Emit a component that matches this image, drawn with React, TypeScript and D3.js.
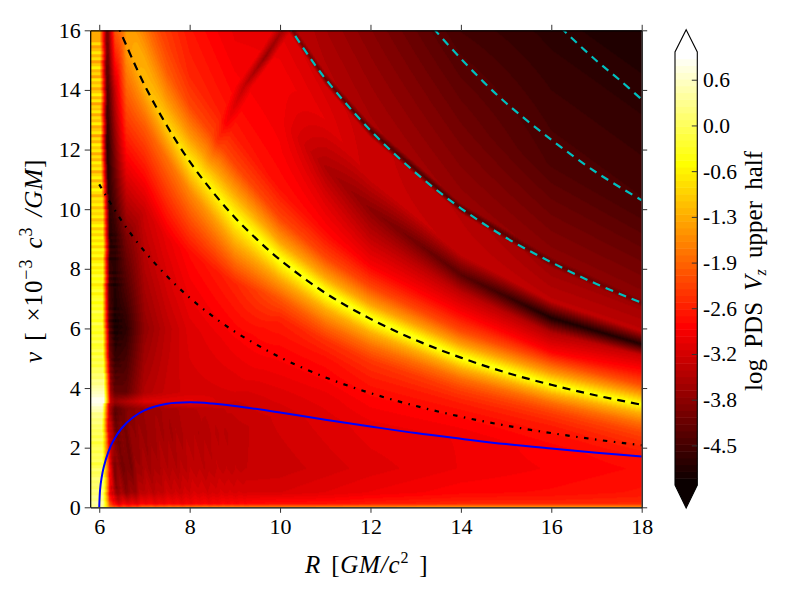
import React, { useEffect, useRef } from "react";
import * as d3 from "d3";

const WIDTH = 800;
const HEIGHT = 600;

// radius of each profile
const columnR = [6.2, 6.35, 6.6, 7, 7.5, 8, 9, 10, 11, 12, 14, 16, 18];

// frequency of the stops of each profile, bottom edge to above the top edge
const columnNu = [
  [0, 0.12, 0.5, 1.3, 2.5, 3.3, 3.55, 3.85, 6, 9, 12, 14, 16, 17, 18, 19, 20, 21, 22, 23, 24, 25, 26],
  [0, 0.12, 0.5, 1.3, 2.5, 3.3, 3.55, 3.85, 6, 9, 12, 14, 16, 17, 18, 19, 20, 21, 22, 23, 24, 25, 26],
  [0, 0.12, 0.5, 1.3, 2.5, 3.3, 3.55, 3.85, 6, 9, 13, 15.5, 16.5, 17.5, 18, 19, 20, 21, 22, 23, 24, 25, 26],
  [0, 0.12, 0.5, 1.3, 2.5, 3.3, 3.55, 3.85, 6, 10, 12.8, 14.17, 15, 16, 17, 18, 19, 20, 21, 22, 23, 24, 25],
  [0, 0.12, 0.5, 1.3, 2.5, 3.3, 3.55, 3.85, 6, 9, 11.7, 12.79, 13.7, 14.6, 15.5, 16.5, 17, 18, 19, 20, 21, 22, 23],
  [0, 0.12, 0.5, 1.3, 2.5, 3.3, 3.55, 3.85, 6, 8.5, 10.6, 11.6, 12.5, 13.5, 14.5, 15.5, 16.5, 17, 18, 19, 20, 21, 22],
  [0, 0.12, 0.5, 1.3, 2.5, 3.3, 3.55, 3.85, 5.5, 7.5, 8.9, 9.72, 10.5, 11.5, 12.5, 13.5, 14.5, 15.5, 16.5, 17, 18, 19, 20],
  [0, 0.12, 0.5, 1.3, 3.18, 4, 4.7, 5.5, 6.3, 7, 7.65, 8.3, 8.9, 9.7, 10.7, 12, 13, 14.5, 16.35, 16.6, 16.85, 18, 19],
  [0, 0.12, 0.5, 1.3, 2.9, 3.7, 4.3, 5, 5.6, 6.1, 6.65, 7.19, 7.7, 8.4, 9.2, 10.3, 11.4, 13, 14.15, 14.38, 14.6, 15.8, 17],
  [0, 0.12, 0.5, 1.3, 2.7, 3.4, 3.8, 4.3, 4.9, 5.4, 5.85, 6.32, 6.8, 7.4, 8.1, 9.1, 10, 11, 12.4, 12.64, 12.88, 14.5, 16.5],
  [0, 0.12, 0.5, 1.3, 2.3, 2.9, 3.2, 3.55, 3.95, 4.3, 4.65, 5.02, 5.45, 5.9, 6.45, 7.2, 7.8, 8.5, 9.85, 10.03, 10.2, 12.9, 16.5],
  [0, 0.12, 0.5, 1.3, 2, 2.4, 2.7, 2.95, 3.2, 3.5, 3.8, 4.11, 4.5, 4.85, 5.2, 5.85, 6.35, 6.9, 8.05, 8.22, 8.4, 11.5, 16.5],
  [0, 0.12, 0.5, 1.3, 1.6, 1.85, 2, 2.2, 2.5, 2.8, 3.15, 3.45, 3.8, 4.1, 4.5, 5.1, 5.47, 5.9, 6.7, 6.86, 7, 10, 16.5],
];

// log power at those stops
const columnVal = [
  [-1.5, -2, -2.8, -2.6, -2.9, -3.2, -3.2, -3.5, -4.2, -4.8, -4.7, -4.4, -3.9, -3.6, -3.5, -3.5, -3.5, -3.5, -3.5, -3.5, -3.5, -3.5, -3.5],
  [-2, -3, -3.6, -3.9, -4, -4.2, -3.8, -4.3, -4.9, -4.7, -3.9, -3.3, -2, -1.8, -1.8, -1.8, -1.8, -1.8, -1.8, -1.8, -1.8, -1.8, -1.8],
  [-2.2, -3, -3.8, -4, -3.9, -3.95, -3.5, -4.2, -4.7, -4, -2.3, -1.4, -1.4, -1.7, -1.8, -1.9, -2, -2, -2, -2, -2, -2, -2],
  [-1.8, -2.9, -3.4, -3.6, -3.7, -3.7, -3.1, -3.5, -3.8, -3.25, -2, -1.15, -1.3, -1.7, -2.1, -2.4, -2.5, -2.5, -2.5, -2.5, -2.5, -2.5, -2.5],
  [-1.7, -2.9, -3.3, -3.5, -3.6, -3.6, -3.05, -3.3, -3.4, -3, -1.8, -0.9, -1.5, -2, -2.25, -2.4, -2.5, -2.6, -2.6, -2.6, -2.6, -2.6, -2.6],
  [-1.65, -2.9, -3.2, -3.4, -3.5, -3.45, -3, -3.2, -3.1, -2.75, -1.6, -0.65, -1.5, -2.2, -2.5, -2.6, -2.7, -2.75, -2.8, -2.8, -2.8, -2.8, -2.8],
  [-1.6, -2.8, -3.15, -3.35, -3.4, -3.3, -3.25, -3.15, -2.9, -2.5, -1.25, -0.45, -1.3, -2.2, -2.6, -2.75, -2.85, -2.95, -3, -3, -3, -3, -3],
  [-1.6, -2.7, -3.15, -3.3, -3.2, -3.05, -2.9, -2.75, -2.55, -2.05, -1.3, -0.35, -1.35, -2.2, -2.7, -2.85, -2.9, -2.9, -3.1, -3.9, -3.4, -3.4, -3.4],
  [-1.55, -2.7, -3.05, -3.2, -3.1, -3, -2.85, -2.7, -2.4, -1.9, -1.25, -0.3, -1.3, -2.2, -2.75, -3.1, -3.55, -3.05, -3.2, -4.2, -3.5, -3.6, -3.7],
  [-1.5, -2.6, -2.95, -3.1, -3, -2.85, -2.75, -2.6, -2.35, -1.85, -1.25, -0.3, -1.35, -2.2, -2.85, -3.4, -3.85, -3.3, -3.3, -4.4, -3.6, -3.75, -3.95],
  [-1.4, -2.5, -2.8, -2.95, -2.95, -2.8, -2.7, -2.55, -2.25, -1.85, -1.25, -0.35, -1.35, -2.15, -2.75, -3.4, -4.3, -3.35, -3.45, -4.4, -3.75, -4.1, -4.55],
  [-1.45, -2.5, -2.75, -2.85, -2.8, -2.7, -2.6, -2.45, -2.25, -1.85, -1.25, -0.4, -1.4, -2.1, -2.8, -3.5, -4.85, -3.4, -3.7, -4.25, -3.85, -4.4, -4.75],
  [-1.5, -2.45, -2.65, -2.75, -2.7, -2.6, -2.5, -2.4, -2.2, -1.85, -1.25, -0.45, -1.4, -2.1, -2.65, -3.3, -4.8, -3.4, -3.65, -4.05, -3.85, -4.45, -4.9],
];

// the noisy bright band at the inner edge, one value per 0.1 of frequency
const edgeVal = [
  0.3, 0.4, 0.2, 0.3, 0.1, 0.25, 0, 0.15, 0.05, 0.2,
  0, -0.1, 0.1, -0.05, -0.2, 0, -0.1, 0.05, -0.15, 0,
  -0.1, -0.2, 0, -0.15, 0.05, -0.1, 0.1, 0, 0.2, 0.1,
  0.3, 0.2, 0.5, 0.6, 0.8, 0.85, 0.9, 0.75, 0.6, 0.5,
  0.4, 0.2, 0.3, 0.05, 0.15, -0.1, 0, -0.2, -0.05, -0.25,
  -0.1, -0.3, -0.05, -0.2, -0.35, -0.1, -0.3, -0.15, -0.4, -0.2,
  -0.3, -0.1, -0.45, -0.2, -0.35, -0.05, -0.4, -0.25, -0.5, -0.2,
  -0.35, -0.6, -0.2, -0.45, -0.7, -0.3, -0.55, -0.2, -0.6, -0.4,
  -0.75, -0.35, -0.6, -0.9, -0.45, -0.7, -0.4, -0.95, -0.55, -0.8,
  -0.5, -0.9, -0.65, -1.05, -0.5, -0.85, -1.1, -0.6, -0.9, -0.7,
  -1.1, -0.6, -0.95, -0.7, -1.2, -0.8, -0.55, -1, -0.75, -1.15,
  -0.65, -0.95, -1.25, -0.7, -1, -0.6, -1.15, -0.85, -1.3, -0.75,
  -1.05, -0.6, -1.2, -0.85, -1.35, -0.7, -1, -1.25, -0.65, -1.1,
  -0.8, -1.3, -0.7, -1.1, -0.9, -1.4, -0.75, -1.15, -0.6, -1.05,
  -1.3, -0.8, -1.1, -0.7, -1.35, -0.9, -1.2, -0.65, -1.05, -1.4,
  -0.85, -1.2, -0.7, -1.1, -1.4, -0.8, -1.25, -0.95, -0.7, -1.3,
];
// where that band starts to fade, one value per 0.5 of frequency
const edgeEnd = [
  6.08, 6.09, 6.08, 6.07, 6.07, 6.06, 6.07, 6.1, 6.1, 6.09, 6.08, 6.08, 6.07, 6.07, 6.07, 6.08, 6.08,
  6.09, 6.08, 6.08, 6.07, 6.05, 6.04, 6.03, 6.02, 6.03, 6.02, 6.03, 6.02, 6.01, 6.02, 6.01, 6.02,
];
const EDGE_FADE = 0.15;

// fan of faint ripples under the epicyclic curve, one value per 0.1 of radius from 6.2
const rippleVal = [
  0.2, -0.2, 0.15, -0.1, 0.05, -0.15, 0.1, -0.03, 0.08, -0.1, 0.02, -0.06, 0.09, -0.04, 0.05, -0.08,
  0.04, -0.05, 0.07, -0.02, 0.05, -0.06, 0.02, -0.04, 0.05, -0.02, 0.03, -0.04, 0.02, -0.03, 0,
];

// faint dark streak running up through the ridge
const streakNu = [3.7, 8.5, 11, 12.2, 13, 14.1, 15.1, 16];
const streakR = [6.75, 7.75, 8.3, 8.6, 8.85, 9.2, 9.67, 10.05];
const streakDepth = [0, 0, 0, 0.15, 0.3, 0.5, 0.85, 0.55];

const keplerR = [6, 6.5, 7, 7.5, 8, 8.5, 9, 9.5, 10, 11, 12, 13, 14, 15, 16, 17, 18];
const keplerNu = [10.83, 9.6, 8.59, 7.75, 7.03, 6.42, 5.89, 5.44, 5.03, 4.36, 3.83, 3.4, 3.04, 2.74, 2.49, 2.27, 2.08];

const ridgeR = [6.4, 6.5, 7, 7.5, 8, 8.5, 9, 9.5, 10, 11, 12, 13, 14, 15, 16, 17, 18];
const ridgeNu = [16.2, 15.84, 14.17, 12.79, 11.6, 10.6, 9.72, 8.97, 8.3, 7.19, 6.32, 5.61, 5.02, 4.52, 4.11, 3.75, 3.44];

const epicycleR = [6, 6.02, 6.05, 6.1, 6.2, 6.3, 6.5, 6.75, 7, 7.5, 8, 8.5, 9, 10, 11, 12, 13, 14, 15, 16, 17, 18];
const epicycleNu = [0, 0.62, 0.97, 1.35, 1.85, 2.2, 2.66, 3.02, 3.25, 3.47, 3.52, 3.48, 3.4, 3.18, 2.94, 2.71, 2.49, 2.3, 2.12, 1.97, 1.83, 1.7];

const cyan1R = [10, 10.5, 11, 12, 13, 14, 15, 16, 17, 18];
const cyan1Nu = [16.6, 15.44, 14.38, 12.64, 11.22, 10.03, 9.04, 8.22, 7.49, 6.86];
const cyan2R = [13.4, 13.5, 14, 14.5, 15, 16, 17, 18];
const cyan2Nu = [16.06, 15.88, 15.05, 14.27, 13.56, 12.33, 11.23, 10.3];
const cyan3R = [16, 16.3, 17, 17.5, 18];
const cyan3Nu = [16.43, 15.96, 14.98, 14.35, 13.68];

const xTicks = [6, 8, 10, 12, 14, 16, 18];
const yTicks = [0, 2, 4, 6, 8, 10, 12, 14, 16];
const barTicks = [0.643, 0, -0.643, -1.286, -1.929, -2.571, -3.214, -3.857, -4.5];
const barLabels = ["0.6", "0.0", "-0.6", "-1.3", "-1.9", "-2.6", "-3.2", "-3.8", "-4.5"];

const VMIN = -5.05;
const VMAX = 1.04;
const LEVELS = 64;

const hot = d3
  .scaleLinear<string>()
  .domain([0, 0.365, 0.746, 1])
  .range(["#0b0000", "#ff0000", "#ffff00", "#ffffff"])
  .clamp(true);

function levelColor(v: number) {
  const t = (v - VMIN) / (VMAX - VMIN);
  const level = Math.max(0, Math.min(LEVELS - 1, Math.floor(t * LEVELS)));
  return d3.rgb(hot(level / (LEVELS - 1)));
}

const App: React.FC = () => {
  const svgRef = useRef<SVGSVGElement | null>(null);

  useEffect(() => {
    const svg = d3.select(svgRef.current);
    svg.selectAll("*").remove();

    const x = d3.scaleLinear().domain([5.8, 18]).range([90.2, 641.7]);
    const y = d3.scaleLinear().domain([0, 16]).range([507.3, 30.3]);
    const left = x.range()[0];
    const right = x.range()[1];
    const top = y.range()[1];
    const bottom = y.range()[0];

    // paint the power map one pixel at a time
    const w = Math.round(right - left);
    const h = Math.round(bottom - top);
    const canvas = document.createElement("canvas");
    canvas.width = w;
    canvas.height = h;
    const ctx = canvas.getContext("2d")!;
    const img = ctx.createImageData(w, h);
    const stopCount = columnNu[0].length;
    const streakAtR = d3.scaleLinear().domain(streakNu).range(streakR).clamp(true);
    const streakAtD = d3.scaleLinear().domain(streakNu).range(streakDepth).clamp(true);

    for (let i = 0; i < w; i++) {
      const R = x.invert(left + ((i + 0.5) * (right - left)) / w);
      const c1 = Math.max(0, Math.min(columnR.length - 2, d3.bisectRight(columnR, R) - 1));
      const f = Math.max(0, Math.min(1, (R - columnR[c1]) / (columnR[c1 + 1] - columnR[c1])));
      const nus: number[] = [];
      const vals: number[] = [];
      for (let k = 0; k < stopCount; k++) {
        nus.push(columnNu[c1][k] + (columnNu[c1 + 1][k] - columnNu[c1][k]) * f);
        vals.push(columnVal[c1][k] + (columnVal[c1 + 1][k] - columnVal[c1][k]) * f);
      }
      for (let j = 0; j < h; j++) {
        const nu = y.invert(top + ((j + 0.5) * (bottom - top)) / h);
        const s = Math.max(1, Math.min(stopCount - 1, d3.bisectRight(nus, nu)));
        const g = (nu - nus[s - 1]) / (nus[s] - nus[s - 1]);
        let v = vals[s - 1] + (vals[s] - vals[s - 1]) * g;

        const off = Math.abs(R - streakAtR(nu)) / 0.2;
        if (off < 1) v -= streakAtD(nu) * (1 - off);

        const row = Math.min(edgeVal.length - 4, Math.floor(nu / 0.1));
        const bright = edgeVal[row];

        // speckle just outside the band
        if (R < 6.6 && nu < 10) {
          const fade = Math.min(1, (6.6 - R) / 0.3) * Math.min(1, (10 - nu) / 2);
          v += (edgeVal[row] - edgeVal[row + 3]) * 0.3 * fade;
        }

        // fan of ripples low down
        if (nu < 3.4) {
          const rr = (R + (nu - 1.5) * 0.1 - 6.2) / 0.1;
          const r0 = Math.floor(rr);
          if (r0 >= 0 && r0 < rippleVal.length - 1) {
            const fade = Math.min(1, (3.4 - nu) / 0.9);
            v += (rippleVal[r0] + (rippleVal[r0 + 1] - rippleVal[r0]) * (rr - r0)) * fade;
          }
        }

        const end = edgeEnd[Math.min(edgeEnd.length - 1, Math.floor(nu / 0.5))];
        if (R < end) v = bright;
        else if (R < end + EDGE_FADE) v = bright + (v - bright) * ((R - end) / EDGE_FADE);

        const col = levelColor(v);
        const p = (j * w + i) * 4;
        img.data[p] = col.r;
        img.data[p + 1] = col.g;
        img.data[p + 2] = col.b;
        img.data[p + 3] = 255;
      }
    }
    ctx.putImageData(img, 0, 0);

    svg
      .append("image")
      .attr("x", left)
      .attr("y", top)
      .attr("width", right - left)
      .attr("height", bottom - top)
      .attr("preserveAspectRatio", "none")
      .attr("href", canvas.toDataURL());

    svg
      .append("clipPath")
      .attr("id", "plot-clip")
      .append("rect")
      .attr("x", left)
      .attr("y", top)
      .attr("width", right - left)
      .attr("height", bottom - top);

    function drawCurve(rs: number[], nus: number[], color: string, dash: string | null, sw: number) {
      const path = d3
        .line<[number, number]>()
        .curve(d3.curveCatmullRom)
        .x((d) => x(d[0]))
        .y((d) => y(d[1]));
      svg
        .append("path")
        .attr("clip-path", "url(#plot-clip)")
        .attr("d", path(rs.map((r, i) => [r, nus[i]] as [number, number])))
        .attr("fill", "none")
        .attr("stroke", color)
        .attr("stroke-width", sw)
        .attr("stroke-dasharray", dash);
    }

    drawCurve(epicycleR, epicycleNu, "#0000ff", null, 2);
    drawCurve(keplerR, keplerNu, "#000000", "4.5 6.5 1.5 6.5", 2.2);
    drawCurve(ridgeR, ridgeNu, "#000000", "8 6", 2.2);
    drawCurve(cyan1R, cyan1Nu, "#00bfbf", "8 6", 2.2);
    drawCurve(cyan2R, cyan2Nu, "#00bfbf", "8 6", 2.2);
    drawCurve(cyan3R, cyan3Nu, "#00bfbf", "8 6", 2.2);

    const serif = "'Liberation Serif', serif";

    // frame with outward ticks on all four sides
    const xAxis = d3.axisBottom(x).tickValues(xTicks).tickSize(5.5).tickPadding(6).tickFormat(d3.format("d") as any);
    const yAxis = d3.axisLeft(y).tickValues(yTicks).tickSize(5.5).tickPadding(4).tickFormat(d3.format("d") as any);
    const xTop = d3.axisTop(x).tickValues(xTicks).tickSize(5.5).tickFormat(() => "");
    const yRight = d3.axisRight(y).tickValues(yTicks).tickSize(5.5).tickFormat(() => "");

    const addAxis = (axis: any, tx: number, ty: number) => {
      const g = svg.append("g").attr("transform", `translate(${tx},${ty})`).call(axis);
      g.selectAll(".domain").attr("stroke", "#000").attr("stroke-width", 1.2);
      g.selectAll(".tick line").attr("stroke", "#333").attr("stroke-width", 1);
      g.selectAll("text").attr("font-family", serif).attr("font-size", 22).attr("fill", "#000");
      return g;
    };
    addAxis(xAxis.tickSizeOuter(0), 0, bottom);
    addAxis(yAxis.tickSizeOuter(0), left, 0);
    addAxis(xTop.tickSizeOuter(0), 0, top);
    addAxis(yRight.tickSizeOuter(0), right, 0);

    // x label
    const xLabel = svg
      .append("text")
      .attr("x", 305)
      .attr("y", 573)
      .attr("font-family", serif)
      .attr("font-size", 25)
      .attr("letter-spacing", 0.8)
      .attr("word-spacing", 3)
      .attr("fill", "#000");
    xLabel.append("tspan").attr("font-style", "italic").text("R");
    xLabel.append("tspan").text(" [");
    xLabel.append("tspan").attr("font-style", "italic").text("GM/c");
    xLabel.append("tspan").attr("font-size", 16).attr("dy", -10).text("2");
    xLabel.append("tspan").attr("dy", 10).text(" ]");

    // y label
    const yLabel = svg
      .append("text")
      .attr("transform", "translate(42,363) rotate(-90)")
      .attr("font-family", serif)
      .attr("font-size", 25)
      .attr("letter-spacing", 0.9)
      .attr("word-spacing", 3)
      .attr("fill", "#000");
    yLabel.append("tspan").attr("font-style", "italic").text("ν");
    yLabel.append("tspan").text(" [ ×10");
    yLabel.append("tspan").attr("font-size", 18).attr("dy", -10).text("−3");
    yLabel.append("tspan").attr("dy", 10).attr("font-style", "italic").text(" c");
    yLabel.append("tspan").attr("font-size", 18).attr("dy", -10).text("3");
    yLabel.append("tspan").attr("dy", 10).attr("font-style", "italic").text(" /GM");
    yLabel.append("tspan").text("]");

    // colour bar
    const barLeft = 675;
    const barRight = 697.3;
    const bar = d3.scaleLinear().domain([VMIN, VMAX]).range([485, 52]);
    const barMid = (barLeft + barRight) / 2;
    const step = (VMAX - VMIN) / LEVELS;

    svg
      .append("g")
      .selectAll("rect")
      .data(d3.range(LEVELS))
      .join("rect")
      .attr("x", barLeft)
      .attr("width", barRight - barLeft)
      .attr("y", (d) => bar(VMIN + (d + 1) * step))
      .attr("height", bar(VMIN) - bar(VMIN + step) + 0.5)
      .attr("fill", (d) => levelColor(VMIN + (d + 0.5) * step).formatHex());

    svg
      .append("path")
      .attr("d", `M${barLeft},${bar(VMIN)}L${barMid},508L${barRight},${bar(VMIN)}Z`)
      .attr("fill", "#0b0000");
    svg
      .append("path")
      .attr("d", `M${barLeft},${bar(VMIN)}L${barMid},508L${barRight},${bar(VMIN)}L${barRight},${bar(VMAX)}L${barMid},29.7L${barLeft},${bar(VMAX)}Z`)
      .attr("fill", "none")
      .attr("stroke", "#000")
      .attr("stroke-width", 1.1);

    barTicks.forEach((t, i) => {
      svg
        .append("line")
        .attr("x1", barRight - 5.5)
        .attr("x2", barRight)
        .attr("y1", bar(t))
        .attr("y2", bar(t))
        .attr("stroke", "#333");
      svg
        .append("text")
        .attr("x", 703)
        .attr("y", bar(t) + 7)
        .attr("font-family", serif)
        .attr("font-size", 21.5)
        .attr("fill", "#000")
        .text(barLabels[i]);
    });

    const barLabel = svg
      .append("text")
      .attr("transform", "translate(762,391) rotate(-90)")
      .attr("font-family", serif)
      .attr("font-size", 25)
      .attr("word-spacing", 5)
      .attr("fill", "#000");
    barLabel.append("tspan").text("log PDS ");
    barLabel.append("tspan").attr("font-style", "italic").text("V");
    barLabel.append("tspan").attr("font-style", "italic").attr("font-size", 16).attr("dy", 4).text("z");
    barLabel.append("tspan").attr("dy", -4).text(" upper half");
  }, []);

  return (
    <svg
      ref={svgRef}
      width={WIDTH}
      height={HEIGHT}
      style={{ position: "absolute", left: 0, top: 0, background: "#fff" }}
    ></svg>
  );
};

export default App;
